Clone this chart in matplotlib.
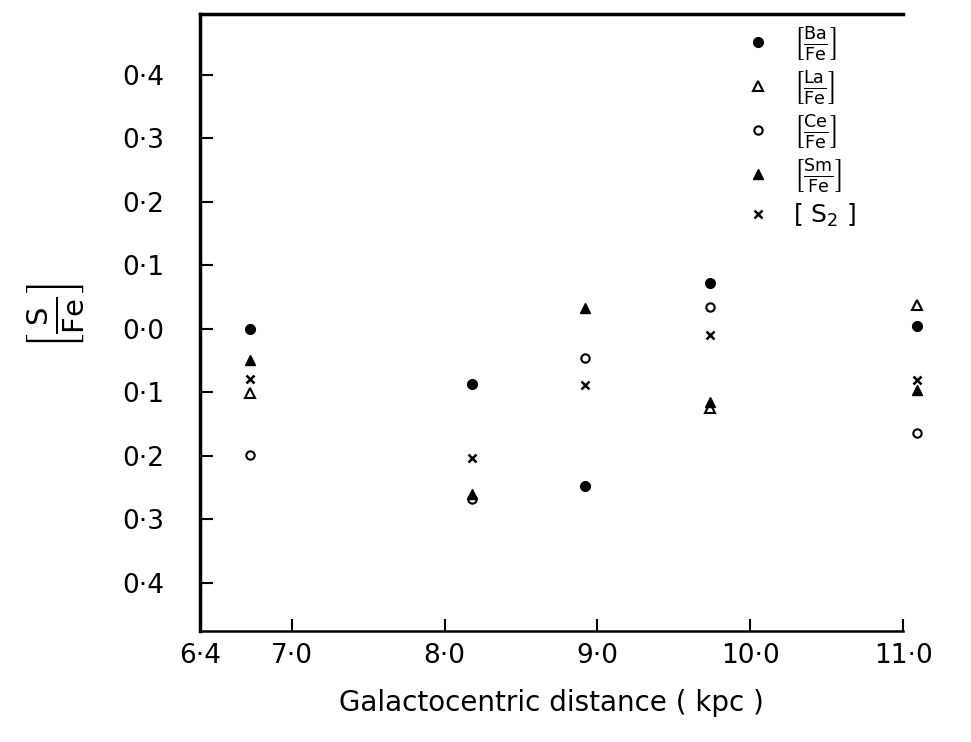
import numpy as np
import matplotlib
matplotlib.use('Agg')
import matplotlib.pyplot as plt
from matplotlib.ticker import FuncFormatter

# Data (galactocentric distance in kpc, [X/Fe] in dex)
distance = [6.73, 8.18, 8.92, 9.74, 11.09]
ba_fe = [0.000, -0.087, -0.247, 0.072, 0.005]
la_fe = [-0.101, np.nan, np.nan, -0.124, 0.038]
ce_fe = [-0.198, -0.268, -0.046, 0.035, -0.164]
sm_fe = [-0.049, -0.260, 0.033, -0.115, -0.096]
s2 = [-0.079, -0.203, -0.088, -0.009, -0.080]

x_ticks = [6.4, 7.0, 8.0, 9.0, 10.0, 11.0]
y_ticks = [0.4, 0.3, 0.2, 0.1, 0.0, -0.1, -0.2, -0.3, -0.4]

plt.rcParams['font.family'] = ['DejaVu Sans']
plt.rcParams['mathtext.fontset'] = 'dejavusans'

fig = plt.figure(figsize=(9.71, 7.42), dpi=100)
ax = fig.add_axes([0.206, 0.1496, 0.724, 0.8315])

ms = 7
ax.plot(distance, ba_fe, 'o', color='black', ms=ms, clip_on=False, label=r'$\left[\frac{\mathsf{Ba}}{\mathsf{Fe}}\right]$')
ax.plot(distance, la_fe, '^', mfc='white', mec='black', mew=1.5, ms=ms, clip_on=False, label=r'$\left[\frac{\mathsf{La}}{\mathsf{Fe}}\right]$')
ax.plot(distance, ce_fe, 'o', mfc='white', mec='black', mew=1.5, ms=ms - 1, clip_on=False, label=r'$\left[\frac{\mathsf{Ce}}{\mathsf{Fe}}\right]$')
ax.plot(distance, sm_fe, '^', color='black', ms=ms, clip_on=False, label=r'$\left[\frac{\mathsf{Sm}}{\mathsf{Fe}}\right]$')
ax.plot(distance, s2, 'x', color='black', mew=1.8, ms=ms - 1, clip_on=False, label=r'$\left[\ \mathsf{S}_2\ \right]$')

ax.set_xlim(6.4, 11.0)
ax.set_ylim(-0.4756, 0.496)
ax.set_xticks(x_ticks)
ax.set_yticks(y_ticks)
ax.xaxis.set_major_formatter(FuncFormatter(lambda v, p: ('%.1f' % v).replace('.', '\u00b7')))
ax.yaxis.set_major_formatter(FuncFormatter(lambda v, p: ('%.1f' % abs(v)).replace('.', '\u00b7')))

ax.tick_params(axis='both', direction='in', length=9, width=1.5, labelsize=19)
ax.tick_params(axis='y', pad=26)
ax.tick_params(axis='x', pad=9)
ax.xaxis.get_major_ticks()[0].tick1line.set_visible(False)

ax.spines['right'].set_visible(False)
ax.spines['left'].set_linewidth(2.5)
ax.spines['top'].set_linewidth(2.5)
ax.spines['bottom'].set_linewidth(1.8)

ax.set_xlabel('Galactocentric distance ( kpc )', fontsize=20, labelpad=14)
fig.text(0.057, 0.575, r'$\left[\frac{\mathsf{S}}{\mathsf{Fe}}\right]$', rotation=90,
         fontsize=30, ha='center', va='center')

leg = ax.legend(loc='upper left', bbox_to_anchor=(0.74, 1.018), frameon=False,
                fontsize=18, labelspacing=0.25, handletextpad=0.8, handlelength=1.2)

plt.savefig('out.png', dpi=100)
